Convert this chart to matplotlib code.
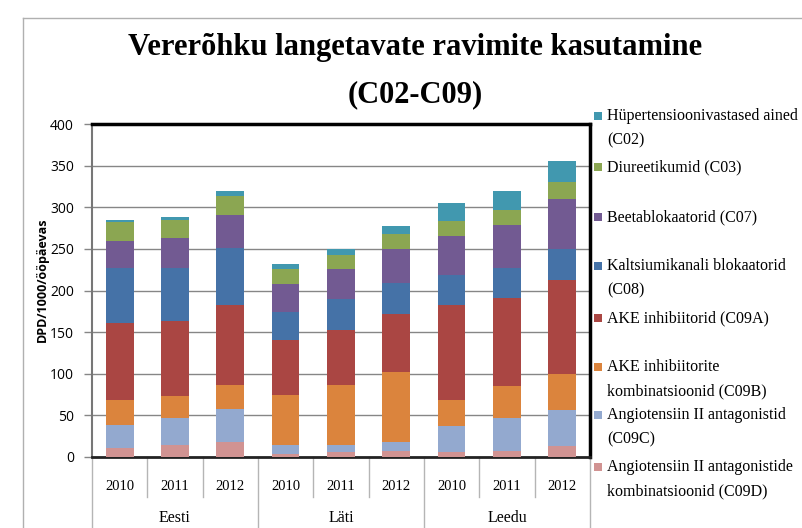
import matplotlib
matplotlib.use("Agg")
import matplotlib.pyplot as plt
from matplotlib.patches import Rectangle
from matplotlib.lines import Line2D
import numpy as np

W, H = 802, 528

years = ["2010", "2011", "2012"] * 3
groups = ["Eesti", "Läti", "Leedu"]

# stacked from bottom to top
series_names = [
    "Angiotensiin II antagonistide\nkombinatsioonid (C09D)",
    "Angiotensiin II antagonistid\n(C09C)",
    "AKE inhibiitorite\nkombinatsioonid (C09B)",
    "AKE inhibiitorid (C09A)",
    "Kaltsiumikanali blokaatorid\n(C08)",
    "Beetablokaatorid (C07)",
    "Diureetikumid (C03)",
    "Hüpertensioonivastased ained\n(C02)",
]
C09D = [11, 14, 18, 4, 6, 7, 6, 7, 13]
C09C = [28, 33, 40, 10, 8, 11, 31, 40, 44]
C09B = [29, 26, 28, 61, 73, 84, 32, 38, 43]
C09A = [93, 90, 96, 65, 66, 70, 114, 106, 113]
C08 = [66, 64, 69, 34, 37, 37, 36, 36, 37]
C07 = [33, 36, 40, 34, 36, 41, 47, 52, 60]
C03 = [22, 22, 23, 18, 17, 18, 17, 18, 20]
C02 = [3, 3, 6, 6, 7, 10, 22, 23, 25]
series = [C09D, C09C, C09B, C09A, C08, C07, C03, C02]
colors = ["#D19392", "#93A9CF", "#DB843D", "#AA4643",
          "#4572A7", "#725A92", "#8BA652", "#4198AF"]

yticks = [0, 50, 100, 150, 200, 250, 300, 350, 400]

fig = plt.figure(figsize=(W / 100, H / 100), dpi=100)
fig.patch.set_facecolor("white")

L, R, T, B = 92, 590, 124, 457
ax = fig.add_axes([L / W, 1 - B / H, (R - L) / W, (B - T) / H])

x = np.arange(len(years))
bottom = np.zeros(len(years))
for vals, col in zip(series, colors):
    ax.bar(x, vals, width=0.5, bottom=bottom, color=col, edgecolor="none", zorder=3)
    bottom += np.array(vals)

ax.set_xlim(-0.5, len(years) - 0.5)
ax.set_ylim(0, 400)
ax.set_yticks(yticks)
ax.set_yticklabels([str(v) for v in yticks], fontfamily="Open Sans", fontsize=10)
ax.tick_params(axis="y", length=6, width=1, color="#868686", pad=7)
ax.set_xticks([])
for v in yticks[1:-1]:
    ax.axhline(v, color="#868686", lw=1, zorder=1)

ax.spines["top"].set_color("black")
ax.spines["top"].set_linewidth(2.5)
ax.spines["right"].set_color("black")
ax.spines["right"].set_linewidth(2.5)
ax.spines["bottom"].set_color("#222222")
ax.spines["bottom"].set_linewidth(2)
ax.spines["left"].set_color("#777777")
ax.spines["left"].set_linewidth(1.5)

# category axis separators and labels
trans = ax.get_xaxis_transform()
axh = B - T
yr_bot = -(497 - B) / axh
fig_bot = -(H - B) / axh
for xs in [0.5, 1.5, 3.5, 4.5, 6.5, 7.5]:
    ax.plot([xs, xs], [0, yr_bot], transform=trans, color="#b5b5b5", lw=1, clip_on=False)
for xs in [-0.5, 2.5, 5.5, 8.5]:
    ax.plot([xs, xs], [0, fig_bot], transform=trans, color="#b5b5b5", lw=1, clip_on=False)
for xi, yl in zip(x, years):
    ax.text(xi, -(487 - B) / axh, yl, transform=trans, ha="center", va="center",
            fontfamily="Liberation Serif", fontsize=10.5)
for gi, g in enumerate(groups):
    ax.text(gi * 3 + 1, -(518 - B) / axh, g, transform=trans, ha="center", va="center",
            fontfamily="Liberation Serif", fontsize=11.5)

# y label
fig.text(42 / W, 1 - 280 / H, "DPD/1000/ööpäevas", rotation=90, ha="center", va="center",
         fontfamily="Open Sans", fontweight="bold", fontsize=9)

# title
fig.text(415 / W, 1 - 48 / H, "Vererõhku langetavate ravimite kasutamine", ha="center", va="center",
         fontfamily="Liberation Serif", fontweight="bold", fontsize=22)
fig.text(415 / W, 1 - 95 / H, "(C02-C09)", ha="center", va="center",
         fontfamily="Liberation Serif", fontweight="bold", fontsize=22)

# outer chart border
fig.add_artist(Line2D([23 / W, 23 / W], [0, 1 - 18 / H], transform=fig.transFigure, color="#b0b0b0", lw=1))
fig.add_artist(Line2D([23 / W, 1], [1 - 18 / H, 1 - 18 / H], transform=fig.transFigure, color="#b0b0b0", lw=1))

# legend (top to bottom)
leg_y = [116, 167, 217, 266, 318, 367, 415, 467]
for i, (name, col) in enumerate(zip(series_names[::-1], colors[::-1])):
    yy = leg_y[i]
    fig.add_artist(Rectangle((594 / W, 1 - (yy + 4) / H), 8 / W, 8 / H,
                             transform=fig.transFigure, facecolor=col, edgecolor="none"))
    for li, line in enumerate(name.split("\n")):
        fig.text(607 / W, 1 - (yy + 24 * li) / H, line, ha="left", va="center",
                 fontfamily="Liberation Serif", fontsize=11.5)

fig.savefig("out.png", dpi=100)
